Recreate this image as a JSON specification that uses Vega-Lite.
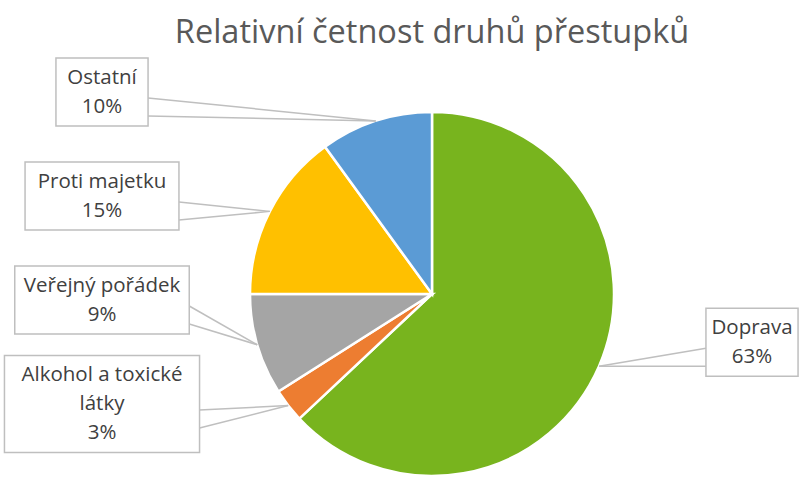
{
  "$schema": "https://vega.github.io/schema/vega-lite/v6.json",
  "width": 734,
  "height": 364,
  "autosize": "none",
  "padding": {"left": 65, "top": 112, "right": 0, "bottom": 0},
  "background": "white",
  "title": {
    "text": "Relativní četnost druhů přestupků",
    "font": "Open Sans",
    "fontSize": 32.5,
    "fontWeight": "normal",
    "color": "#595959",
    "anchor": "middle",
    "frame": "group",
    "offset": 8
  },
  "config": {"view": {"stroke": null}},
  "data": {
    "values": [
      {"name": "Doprava", "pct": 63},
      {"name": "Alkohol a toxické látky", "pct": 3},
      {"name": "Veřejný pořádek", "pct": 9},
      {"name": "Proti majetku", "pct": 15},
      {"name": "Ostatní", "pct": 10}
    ]
  },
  "transform": [
    {"window": [{"op": "row_number", "as": "idx"}, {"op": "sum", "field": "pct", "as": "cum"}], "frame": [null, 0]},
    {"joinaggregate": [{"op": "sum", "field": "pct", "as": "total"}, {"op": "count", "as": "n"}]},
    {"calculate": "2*PI*(datum.cum - datum.pct/2)/datum.total", "as": "mid"},
    {"calculate": "sin(datum.mid) >= 0 ? 1 : -1", "as": "side"},
    {"calculate": "182*sin(datum.mid)", "as": "tipx"},
    {"calculate": "182*cos(datum.mid)", "as": "tipy"},
    {"calculate": "datum.side > 0 ? datum.tipy + 24 : 202 - 104*(datum.n - datum.idx)", "as": "ly"},
    {"calculate": "datum.side > 0 ? 320 : -330", "as": "lx"},
    {"calculate": "replace(datum.name, regexp('^(.{10,17}) '), '$1\\n') + '\\n' + datum.pct + '%'", "as": "lbl"},
    {"calculate": "length(split(datum.lbl, '\\n'))", "as": "nl"},
    {"calculate": "datum.ly + (datum.nl - 1)*14.5", "as": "ty"},
    {"calculate": "(min(length(datum.name), 17)*10.3 + 20)/2", "as": "halfw"},
    {"calculate": "(29*datum.nl + 10)/2", "as": "halfh"},
    {"calculate": "datum.lx - datum.halfw", "as": "bx1"},
    {"calculate": "datum.lx + datum.halfw", "as": "bx2"},
    {"calculate": "datum.ly - datum.halfh", "as": "by1"},
    {"calculate": "datum.ly + datum.halfh", "as": "by2"},
    {"calculate": "datum.lx - datum.side*datum.halfw", "as": "edgex"},
    {"calculate": "datum.ly - 6", "as": "py1"},
    {"calculate": "datum.ly - 24", "as": "py2"}
  ],
  "layer": [
    {
      "mark": {"type": "arc", "stroke": "white", "strokeWidth": 2.5, "outerRadius": 182},
      "encoding": {
        "theta": {"field": "pct", "type": "quantitative", "stack": true},
        "order": {"field": "idx", "type": "quantitative"},
        "color": {
          "field": "name",
          "type": "nominal",
          "legend": null,
          "scale": {
            "domain": ["Doprava", "Alkohol a toxické látky", "Veřejný pořádek", "Proti majetku", "Ostatní"],
            "range": ["#78B41E", "#ED7D31", "#A5A5A5", "#FFC000", "#5B9BD5"]
          }
        }
      }
    },
    {
      "mark": {"type": "rule", "color": "#BFBFBF", "strokeWidth": 1.5},
      "encoding": {
        "x": {"field": "tipx", "type": "quantitative", "axis": null, "scale": {"domain": [-367, 367], "nice": false, "zero": false}},
        "y": {"field": "tipy", "type": "quantitative", "axis": null, "scale": {"domain": [-182, 182], "nice": false, "zero": false}},
        "x2": {"field": "edgex"},
        "y2": {"field": "py1"}
      }
    },
    {
      "mark": {"type": "rule", "color": "#BFBFBF", "strokeWidth": 1.5},
      "encoding": {
        "x": {"field": "tipx", "type": "quantitative", "axis": null, "scale": {"domain": [-367, 367], "nice": false, "zero": false}},
        "y": {"field": "tipy", "type": "quantitative", "axis": null, "scale": {"domain": [-182, 182], "nice": false, "zero": false}},
        "x2": {"field": "edgex"},
        "y2": {"field": "py2"}
      }
    },
    {
      "mark": {"type": "rect", "fill": "white", "stroke": "#BFBFBF", "strokeWidth": 1.5},
      "encoding": {
        "x": {"field": "bx1", "type": "quantitative", "axis": null, "scale": {"domain": [-367, 367], "nice": false, "zero": false}},
        "x2": {"field": "bx2"},
        "y": {"field": "by1", "type": "quantitative", "axis": null, "scale": {"domain": [-182, 182], "nice": false, "zero": false}},
        "y2": {"field": "by2"}
      }
    },
    {
      "mark": {"type": "text", "font": "Open Sans", "fontSize": 20.5, "color": "#404040", "align": "center", "baseline": "middle", "lineBreak": "\n", "lineHeight": 29},
      "encoding": {
        "x": {"field": "lx", "type": "quantitative", "axis": null, "scale": {"domain": [-367, 367], "nice": false, "zero": false}},
        "y": {"field": "ty", "type": "quantitative", "axis": null, "scale": {"domain": [-182, 182], "nice": false, "zero": false}},
        "text": {"field": "lbl", "type": "nominal"}
      }
    }
  ]
}
